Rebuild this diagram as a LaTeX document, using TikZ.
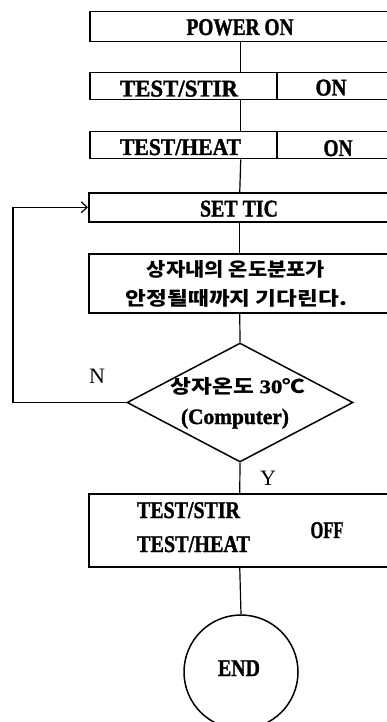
\documentclass[tikz,border=0pt]{standalone}
\usepackage{fontspec}
\setmainfont{Liberation Serif}[BoldFeatures={FakeBold=1.5}]
\newfontfamily\kr{Noto Sans CJK KR}
\usetikzlibrary{shapes.geometric,arrows.meta}
\newcommand\fw[2]{\resizebox{#1}{\height}{#2}}
\begin{document}
\begin{tikzpicture}[x=1pt,y=-1pt,
  box/.style={draw,line width=1.5pt,minimum width=302pt,inner sep=0pt,anchor=north west},
  conn/.style={line width=1.2pt},
  lbl/.style={inner sep=0pt,anchor=base,font=\fontsize{24}{24}\selectfont\bfseries},
  krl/.style={inner sep=0pt,anchor=center,font=\fontsize{19}{19}\selectfont\kr\bfseries},
  yn/.style={inner sep=0pt,anchor=base,font=\fontsize{22}{22}\selectfont}]
\useasboundingbox (0,0) rectangle (387,722);
\clip (0,0) rectangle (387,722);
\fill[white] (0,0) rectangle (387,722);
% boxes
\node[box,minimum height=30pt] (pw) at (89,11) {};
\node[box,minimum height=27pt] (stir) at (89,72) {};
\node[box,minimum height=27pt] (heat) at (89,131) {};
\node[box,minimum height=29pt] (set) at (88,192) {};
\node[box,minimum height=59pt] (wait) at (88,253) {};
\node[draw,diamond,line width=1.5pt,inner sep=0pt,minimum width=226pt,minimum height=119pt] (dia) at (240,402.5) {};
\node[box,minimum height=73pt] (off) at (88,493) {};
\node[draw,circle,line width=1.5pt,inner sep=0pt,minimum size=114pt] (end) at (241,672) {};
% dividers
\draw[line width=1.5pt] ([xshift=188pt]stir.north west) -- ([xshift=188pt]stir.south west);
\draw[line width=1.5pt] ([xshift=188pt]heat.north west) -- ([xshift=188pt]heat.south west);
% texts
\node[lbl] (tpw) at (240,35) {\fw{107pt}{POWER ON}};
\node[lbl] (tstir) at (179,96.5) {\fw{118pt}{TEST/STIR}};
\node[lbl] (ton1) at (331,95.5) {\fw{31pt}{ON}};
\node[lbl] (theat) at (180.5,155) {\fw{121pt}{TEST/HEAT}};
\node[lbl] (ton2) at (338,156) {\fw{29pt}{ON}};
\node[lbl] (tset) at (239,216.5) {\fw{78pt}{SET TIC}};
\node[krl] (tw1) at (236,269) {\fw{178pt}{상자내의 온도분포가}};
\node[krl] (tw2) at (236.5,298) {\fw{221pt}{안정될때까지 기다린다.}};
\node[krl] (td1) at (238,386) {\fw{134pt}{상자온도 {\rmfamily\bfseries 30}℃}};
\node[lbl,font=\fontsize{22}{22}\selectfont\bfseries] (td2) at (235,424) {\fw{108pt}{(Computer)}};
\node[lbl] (to1) at (188.5,518) {\fw{103pt}{TEST/STIR}};
\node[lbl] (to2) at (193.5,552) {\fw{113pt}{TEST/HEAT}};
\node[lbl] (toff) at (327,538) {\fw{33pt}{OFF}};
\node[lbl] (tend) at (239,676) {\fw{42pt}{END}};
\node[yn] (tn) at (97,383) {N};
\node[yn] (ty) at (268,485) {Y};
% connectors
\draw[conn] (pw.south) -- (stir.north);
\draw[conn] (stir.south) -- (heat.north);
\draw[conn] (heat.south) -- (set.north);
\draw[conn] (set.south) -- (wait.north);
\draw[conn] (wait.south) -- (dia.north);
\draw[conn] (dia.south) -- (off.north);
\draw[conn] (off.south) -- (end.north);
\coordinate (lp) at (13,402.5);
\draw[conn,-{Straight Barb[length=6pt,width=11pt,line width=1.2pt]}] (dia.west) -- (lp) |- (set.west);
\end{tikzpicture}
\end{document}
